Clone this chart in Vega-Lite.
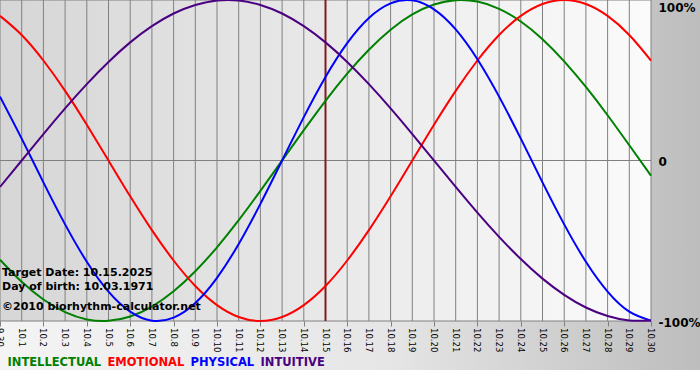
{
  "$schema": "https://vega.github.io/schema/vega-lite/v6.json",
  "width": 651,
  "height": 321,
  "autosize": {"type": "none"},
  "padding": {"left": 0, "top": 0, "right": 49, "bottom": 59},
  "background": "white",
  "config": {
    "view": {"stroke": null},
    "axis": {"grid": false, "domain": false, "title": null, "labelColor": "#000000", "labelOverlap": false, "labelBound": false, "labelFlush": false, "zindex": 2},
    "axisX": {"labels": false, "tickColor": "#808080", "tickSize": 5, "tickCount": 30},
    "axisY": {"labelFont": "DejaVu Sans", "labelFontSize": 12, "labelFontWeight": "bold", "ticks": false, "labelPadding": 7}
  },
  "data": {
    "values": [
      {"i": 0, "d": "9.30", "INTELLECTUAL": -61.8, "EMOTIONAL": 90.1, "PHYSICAL": 39.8, "INTUITIVE": -16.5},
      {"i": 1, "d": "10.1", "INTELLECTUAL": -75.6, "EMOTIONAL": 78.2, "PHYSICAL": 13.6, "INTUITIVE": 0},
      {"i": 2, "d": "10.2", "INTELLECTUAL": -86.6, "EMOTIONAL": 62.3, "PHYSICAL": -13.6, "INTUITIVE": 16.5},
      {"i": 3, "d": "10.3", "INTELLECTUAL": -94.5, "EMOTIONAL": 43.4, "PHYSICAL": -39.8, "INTUITIVE": 32.5},
      {"i": 4, "d": "10.4", "INTELLECTUAL": -99.0, "EMOTIONAL": 22.3, "PHYSICAL": -63.1, "INTUITIVE": 47.6},
      {"i": 5, "d": "10.5", "INTELLECTUAL": -99.9, "EMOTIONAL": 0, "PHYSICAL": -81.7, "INTUITIVE": 61.4},
      {"i": 6, "d": "10.6", "INTELLECTUAL": -97.2, "EMOTIONAL": -22.3, "PHYSICAL": -94.2, "INTUITIVE": 73.6},
      {"i": 7, "d": "10.7", "INTELLECTUAL": -91.0, "EMOTIONAL": -43.4, "PHYSICAL": -99.8, "INTUITIVE": 83.7},
      {"i": 8, "d": "10.8", "INTELLECTUAL": -81.5, "EMOTIONAL": -62.3, "PHYSICAL": -97.9, "INTUITIVE": 91.6},
      {"i": 9, "d": "10.9", "INTELLECTUAL": -69.0, "EMOTIONAL": -78.2, "PHYSICAL": -88.8, "INTUITIVE": 96.9},
      {"i": 10, "d": "10.10", "INTELLECTUAL": -54.1, "EMOTIONAL": -90.1, "PHYSICAL": -73.1, "INTUITIVE": 99.7},
      {"i": 11, "d": "10.11", "INTELLECTUAL": -37.2, "EMOTIONAL": -97.5, "PHYSICAL": -52.0, "INTUITIVE": 99.7},
      {"i": 12, "d": "10.12", "INTELLECTUAL": -18.9, "EMOTIONAL": -100, "PHYSICAL": -27.0, "INTUITIVE": 96.9},
      {"i": 13, "d": "10.13", "INTELLECTUAL": 0, "EMOTIONAL": -97.5, "PHYSICAL": 0, "INTUITIVE": 91.6},
      {"i": 14, "d": "10.14", "INTELLECTUAL": 18.9, "EMOTIONAL": -90.1, "PHYSICAL": 27.0, "INTUITIVE": 83.7},
      {"i": 15, "d": "10.15", "INTELLECTUAL": 37.2, "EMOTIONAL": -78.2, "PHYSICAL": 52.0, "INTUITIVE": 73.6},
      {"i": 16, "d": "10.16", "INTELLECTUAL": 54.1, "EMOTIONAL": -62.3, "PHYSICAL": 73.1, "INTUITIVE": 61.4},
      {"i": 17, "d": "10.17", "INTELLECTUAL": 69.0, "EMOTIONAL": -43.4, "PHYSICAL": 88.8, "INTUITIVE": 47.6},
      {"i": 18, "d": "10.18", "INTELLECTUAL": 81.5, "EMOTIONAL": -22.3, "PHYSICAL": 97.9, "INTUITIVE": 32.5},
      {"i": 19, "d": "10.19", "INTELLECTUAL": 91.0, "EMOTIONAL": 0, "PHYSICAL": 99.8, "INTUITIVE": 16.5},
      {"i": 20, "d": "10.20", "INTELLECTUAL": 97.2, "EMOTIONAL": 22.3, "PHYSICAL": 94.2, "INTUITIVE": 0},
      {"i": 21, "d": "10.21", "INTELLECTUAL": 99.9, "EMOTIONAL": 43.4, "PHYSICAL": 81.7, "INTUITIVE": -16.5},
      {"i": 22, "d": "10.22", "INTELLECTUAL": 99.0, "EMOTIONAL": 62.3, "PHYSICAL": 63.1, "INTUITIVE": -32.5},
      {"i": 23, "d": "10.23", "INTELLECTUAL": 94.5, "EMOTIONAL": 78.2, "PHYSICAL": 39.8, "INTUITIVE": -47.6},
      {"i": 24, "d": "10.24", "INTELLECTUAL": 86.6, "EMOTIONAL": 90.1, "PHYSICAL": 13.6, "INTUITIVE": -61.4},
      {"i": 25, "d": "10.25", "INTELLECTUAL": 75.6, "EMOTIONAL": 97.5, "PHYSICAL": -13.6, "INTUITIVE": -73.6},
      {"i": 26, "d": "10.26", "INTELLECTUAL": 61.8, "EMOTIONAL": 100, "PHYSICAL": -39.8, "INTUITIVE": -83.7},
      {"i": 27, "d": "10.27", "INTELLECTUAL": 45.8, "EMOTIONAL": 97.5, "PHYSICAL": -63.1, "INTUITIVE": -91.6},
      {"i": 28, "d": "10.28", "INTELLECTUAL": 28.2, "EMOTIONAL": 90.1, "PHYSICAL": -81.7, "INTUITIVE": -96.9},
      {"i": 29, "d": "10.29", "INTELLECTUAL": 9.5, "EMOTIONAL": 78.2, "PHYSICAL": -94.2, "INTUITIVE": -99.7},
      {"i": 30, "d": "10.30", "INTELLECTUAL": -9.5, "EMOTIONAL": 62.3, "PHYSICAL": -99.8, "INTUITIVE": -99.7}
    ]
  },
  "layer": [
    {
      "data": {"values": [{}]},
      "mark": {
        "type": "rect",
        "clip": false,
        "fill": {"gradient": "linear", "x1": 0, "y1": 0, "x2": 1, "y2": 0,
          "stops": [{"offset": 0, "color": "#f4f4f4"}, {"offset": 0.55, "color": "#e6e6e6"}, {"offset": 1, "color": "#bdbdbd"}]}
      },
      "encoding": {
        "x": {"datum": 0, "type": "quantitative", "scale": {"domain": [0, 30], "nice": false, "zero": false}},
        "x2": {"datum": 32.26},
        "y": {"datum": -130.5, "type": "quantitative", "scale": {"domain": [-100, 100], "nice": false, "zero": false}},
        "y2": {"datum": 100}
      }
    },
    {
      "data": {"values": [{}]},
      "mark": {
        "type": "rect",
        "fill": {"gradient": "linear", "x1": 0, "y1": 0, "x2": 1, "y2": 0,
          "stops": [{"offset": 0, "color": "#d6d6d6"}, {"offset": 1, "color": "#fbfbfb"}]}
      },
      "encoding": {
        "x": {"datum": 0, "type": "quantitative"},
        "x2": {"datum": 30},
        "y": {"datum": -100, "type": "quantitative"},
        "y2": {"datum": 100}
      }
    },
    {
      "mark": {"type": "rule", "color": "#808080", "strokeWidth": 1},
      "encoding": {
        "x": {"field": "i", "type": "quantitative"}
      }
    },
    {
      "data": {"values": [{"v": -100}, {"v": 0}, {"v": 100}]},
      "mark": {"type": "rule", "color": "#808080", "strokeWidth": 1},
      "encoding": {
        "y": {"field": "v", "type": "quantitative"}
      }
    },
    {
      "data": {"values": [{}]},
      "mark": {"type": "rule", "color": "#7f1c1c", "strokeWidth": 2},
      "encoding": {
        "x": {"datum": 15, "type": "quantitative"}
      }
    },
    {
      "transform": [{"fold": ["INTELLECTUAL", "EMOTIONAL", "PHYSICAL", "INTUITIVE"], "as": ["key", "value"]}],
      "mark": {"type": "line", "interpolate": "natural", "strokeWidth": 2},
      "encoding": {
        "x": {
          "field": "i", "type": "quantitative",
          "axis": {
            "values": [0,1,2,3,4,5,6,7,8,9,10,11,12,13,14,15,16,17,18,19,20,21,22,23,24,25,26,27,28,29,30],
            "tickCount": 30, "labels": false,
            "title": null, "grid": false, "zindex": 2
          }
        },
        "y": {
          "field": "value", "type": "quantitative",
          "axis": {
            "orient": "right", "values": [-100, 0, 100],
            "labelExpr": "datum.value == 0 ? '0' : datum.value + '%'",
            "title": null, "grid": false, "zindex": 2, "labelOverlap": false, "labelBound": false, "labelFlush": false,
            "labelBaseline": {"condition": {"test": "datum.value == 100", "value": "top"}, "value": "middle"},
            "labelOffset": {"condition": {"test": "datum.value == 100", "value": 2}, "value": 1}
          }
        },
        "color": {
          "field": "key", "type": "nominal",
          "scale": {"domain": ["INTELLECTUAL", "EMOTIONAL", "PHYSICAL", "INTUITIVE"], "range": ["#008000", "#ff0000", "#0000ff", "#4b0082"]},
          "legend": {
            "orient": "none", "legendX": 7, "legendY": 357, "direction": "horizontal", "title": null,
            "symbolSize": 0, "symbolStrokeWidth": 0, "symbolOpacity": 0, "labelOffset": -11, "columnPadding": 5,
            "labelFont": "DejaVu Sans", "labelFontSize": 11.5, "labelFontWeight": "bold", "labelLimit": 0,
            "encode": {"labels": {"update": {"fill": {"scale": "color", "field": "value"}}}}
          }
        }
      }
    },
    {
      "mark": {"type": "text", "angle": 90, "align": "left", "baseline": "middle", "dx": 7, "font": "DejaVu Sans", "fontSize": 8.5, "color": "#000000", "clip": false},
      "encoding": {
        "x": {"field": "i", "type": "quantitative"},
        "y": {"datum": -100, "type": "quantitative"},
        "text": {"field": "d", "type": "nominal"}
      }
    },
    {
      "data": {"values": [{}]},
      "mark": {"type": "text", "align": "left", "baseline": "alphabetic", "dx": 2, "font": "DejaVu Sans", "fontSize": 11, "fontWeight": "bold", "color": "#000000"},
      "encoding": {
        "x": {"datum": 0, "type": "quantitative"},
        "y": {"datum": -72.0, "type": "quantitative"},
        "text": {"value": "Target Date: 10.15.2025"}
      }
    },
    {
      "data": {"values": [{}]},
      "mark": {"type": "text", "align": "left", "baseline": "alphabetic", "dx": 2, "font": "DejaVu Sans", "fontSize": 11, "fontWeight": "bold", "color": "#000000"},
      "encoding": {
        "x": {"datum": 0, "type": "quantitative"},
        "y": {"datum": -80.7, "type": "quantitative"},
        "text": {"value": "Day of birth: 10.03.1971"}
      }
    },
    {
      "data": {"values": [{}]},
      "mark": {"type": "text", "align": "left", "baseline": "alphabetic", "dx": 2, "font": "DejaVu Sans", "fontSize": 11, "fontWeight": "bold", "color": "#000000"},
      "encoding": {
        "x": {"datum": 0, "type": "quantitative"},
        "y": {"datum": -93.1, "type": "quantitative"},
        "text": {"value": "©2010 biorhythm-calculator.net"}
      }
    }
  ]
}
